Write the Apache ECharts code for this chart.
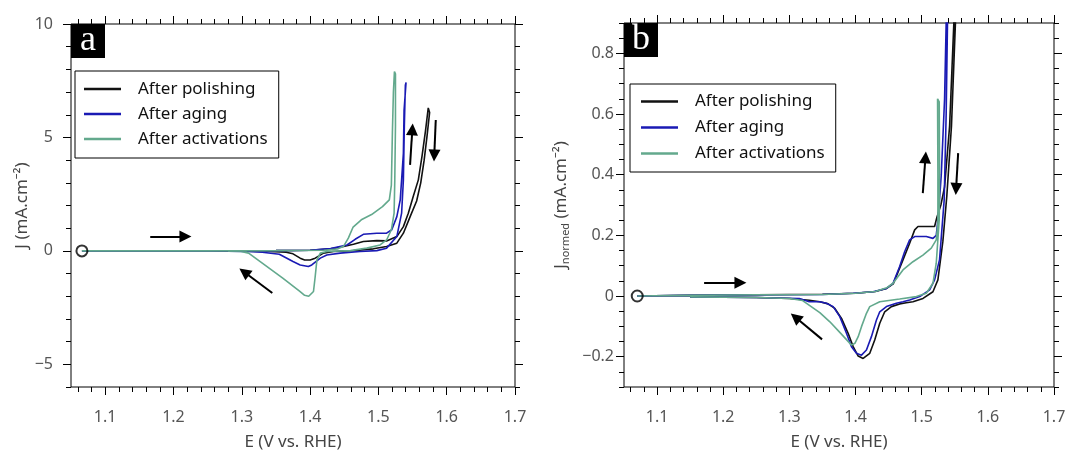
<!DOCTYPE html>
<html>
<head>
<meta charset="utf-8">
<script src="https://cdn.jsdelivr.net/npm/echarts@6/dist/echarts.min.js"></script>
<style>
  html, body { margin: 0; padding: 0; background: #fff; }
  #chart { width: 1068px; height: 450px; }
</style>
</head>
<body>
<div id="chart"></div>
<script>
// ---- Axis ticks -------------------------------------------------------
const eMajor = [1.1, 1.2, 1.3, 1.4, 1.5, 1.6, 1.7];
const eMinor = [1.06, 1.08, 1.12, 1.14, 1.16, 1.18, 1.22, 1.24, 1.26, 1.28,
                1.32, 1.34, 1.36, 1.38, 1.42, 1.44, 1.46, 1.48, 1.52, 1.54,
                1.56, 1.58, 1.62, 1.64, 1.66, 1.68];
const jMajorA = [-5, 0, 5, 10];
const jMinorA = [-6, -4, -3, -2, -1, 1, 2, 3, 4, 6, 7, 8, 9];
const jMajorB = [-0.2, 0, 0.2, 0.4, 0.6, 0.8];
const jMinorB = [-0.3, -0.25, -0.15, -0.1, -0.05, 0.05, 0.1, 0.15, 0.25, 0.3,
                 0.35, 0.45, 0.5, 0.55, 0.65, 0.7, 0.75, 0.85, 0.9];

const seriesNames = ['After polishing', 'After aging', 'After activations'];

// ---- Panel a: J (mA.cm-2) vs E (V vs. RHE), forward then reverse sweep ----
const polishingA = [
  [1.066, 0], [1.15, 0], [1.25, 0], [1.35, 0.01], [1.40, 0.03], [1.43, 0.09],
  [1.449, 0.19], [1.4635, 0.29], [1.478, 0.41], [1.4977, 0.45], [1.512, 0.44],
  [1.527, 0.63], [1.5366, 1.07], [1.5438, 1.66], [1.551, 2.4], [1.5585, 3.13],
  [1.564, 4.2], [1.569, 5.3], [1.573, 6.3],
  [1.575, 6.1], [1.571, 5.0], [1.567, 4.0], [1.562, 3.0], [1.556, 2.2],
  [1.5465, 1.51], [1.5366, 0.78], [1.527, 0.34], [1.512, 0.19], [1.4927, 0.09],
  [1.4635, 0.01], [1.434, -0.03], [1.4196, -0.1], [1.4075, -0.32], [1.40, -0.4],
  [1.392, -0.4], [1.3855, -0.32], [1.375, -0.13], [1.365, -0.06], [1.34, -0.02],
  [1.30, -0.01], [1.25, 0]
];
const agingA = [
  [1.066, 0], [1.15, 0], [1.25, 0], [1.35, 0.01], [1.40, 0.03], [1.43, 0.1],
  [1.454, 0.26], [1.466, 0.51], [1.478, 0.73], [1.4977, 0.78], [1.512, 0.78],
  [1.5196, 0.93], [1.527, 1.51], [1.532, 2.25], [1.534, 3.13], [1.5366, 4.3],
  [1.5376, 6.2], [1.5405, 7.42],
  [1.5395, 7.3], [1.538, 5.5], [1.5366, 3.13], [1.534, 1.66], [1.527, 0.63],
  [1.512, 0.12], [1.4977, 0.01], [1.473, -0.03], [1.444, -0.1], [1.4245, -0.18],
  [1.415, -0.32], [1.4025, -0.62], [1.3975, -0.69], [1.3855, -0.62], [1.375, -0.47],
  [1.355, -0.15], [1.33, -0.06], [1.31, -0.03], [1.28, -0.01]
];
const activationsA = [
  [1.066, 0], [1.15, 0], [1.25, 0], [1.35, 0.01], [1.42, 0.03], [1.44, 0.08],
  [1.449, 0.2], [1.456, 0.56], [1.463, 1.05], [1.475, 1.37], [1.49, 1.6],
  [1.506, 1.95], [1.516, 2.25], [1.519, 2.9], [1.5205, 5.2], [1.522, 7.0],
  [1.5235, 7.9],
  [1.525, 7.8], [1.525, 5.5], [1.524, 3.1], [1.523, 1.66], [1.519, 0.93],
  [1.512, 0.48], [1.5025, 0.26], [1.483, 0.12], [1.459, 0.01], [1.4245, -0.03],
  [1.415, -0.1], [1.41, -0.4], [1.4075, -1.13], [1.405, -1.79], [1.398, -2.0],
  [1.392, -1.96], [1.385, -1.79], [1.36, -1.2], [1.33, -0.54], [1.31, -0.1],
  [1.299, -0.03], [1.28, -0.01]
];

// ---- Panel b: normalised current density -------------------------------
const polishingB = [
  [1.07, 0], [1.15, 0.002], [1.25, 0.004], [1.35, 0.006], [1.40, 0.009],
  [1.43, 0.015], [1.447, 0.025], [1.457, 0.04], [1.4717, 0.119], [1.4818, 0.174],
  [1.4894, 0.218], [1.4944, 0.229], [1.512, 0.229], [1.5195, 0.229], [1.523, 0.26],
  [1.529, 0.30], [1.5346, 0.36], [1.5422, 0.56], [1.5486, 0.9], [1.551, 1.0],
  [1.553, 1.0], [1.551, 0.9], [1.545, 0.56], [1.538, 0.33], [1.532, 0.18],
  [1.5245, 0.053], [1.517, 0.014], [1.502, -0.008], [1.4868, -0.019],
  [1.4767, -0.022], [1.4667, -0.026], [1.4542, -0.035], [1.4441, -0.052],
  [1.4366, -0.09], [1.429, -0.145], [1.4215, -0.189], [1.4115, -0.206],
  [1.404, -0.198], [1.3964, -0.167], [1.3888, -0.123], [1.3788, -0.074],
  [1.3687, -0.041], [1.3586, -0.026], [1.346, -0.019], [1.33, -0.014],
  [1.30, -0.008], [1.25, -0.005], [1.15, -0.003]
];
const agingB = [
  [1.07, 0], [1.15, 0.002], [1.25, 0.004], [1.35, 0.005], [1.3964, 0.009],
  [1.4265, 0.014], [1.4467, 0.025], [1.4567, 0.042], [1.4667, 0.097],
  [1.4742, 0.146], [1.4818, 0.185], [1.4894, 0.196], [1.507, 0.196], [1.517, 0.19],
  [1.522, 0.2], [1.5245, 0.25], [1.527, 0.32], [1.5296, 0.4], [1.5346, 0.65],
  [1.537, 0.9], [1.538, 1.0],
  [1.540, 1.0], [1.539, 0.9], [1.537, 0.6], [1.534, 0.317], [1.527, 0.12],
  [1.5195, 0.053], [1.512, 0.02], [1.497, -0.002], [1.4818, -0.013],
  [1.4717, -0.019], [1.4617, -0.024], [1.4467, -0.035], [1.4366, -0.052],
  [1.4316, -0.079], [1.424, -0.134], [1.4165, -0.178], [1.409, -0.195],
  [1.4014, -0.189], [1.3939, -0.167], [1.3863, -0.123], [1.3762, -0.068],
  [1.3662, -0.035], [1.356, -0.024], [1.346, -0.019], [1.33, -0.019],
  [1.315, -0.008], [1.25, -0.005], [1.15, -0.003]
];
const activationsB = [
  [1.07, 0], [1.15, 0.002], [1.25, 0.004], [1.35, 0.005], [1.40, 0.009],
  [1.43, 0.015], [1.447, 0.027], [1.4567, 0.042], [1.4717, 0.086], [1.4868, 0.113],
  [1.5019, 0.135], [1.5145, 0.158], [1.522, 0.185], [1.5245, 0.24], [1.5245, 0.4],
  [1.524, 0.65], [1.5225, 0.645],
  [1.5265, 0.64], [1.527, 0.4], [1.5265, 0.25], [1.522, 0.108], [1.517, 0.042],
  [1.507, 0.009], [1.492, -0.002], [1.4667, -0.01], [1.4366, -0.019],
  [1.4215, -0.035], [1.4165, -0.057], [1.409, -0.101], [1.404, -0.134],
  [1.399, -0.156], [1.394, -0.162], [1.3762, -0.12], [1.3612, -0.085],
  [1.346, -0.055], [1.32, -0.015], [1.30, -0.008], [1.25, -0.005], [1.15, -0.003]
];

// Scan start points and sweep-direction arrows ([tail], [head])
const startA = [[1.066, 0]];
const startB = [[1.07, 0]];
const arrowsA = [
  [[1.166, 0.63], [1.2175, 0.63]],
  [[1.3447, -1.86], [1.3035, -0.93]],
  [[1.5464, 3.79], [1.5497, 5.35]],
  [[1.584, 5.77], [1.5818, 4.2]]
];
const arrowsB = [
  [[1.1711, 0.044], [1.226, 0.044]],
  [[1.3494, -0.143], [1.3091, -0.07]],
  [[1.5017, 0.339], [1.5057, 0.457]],
  [[1.5551, 0.471], [1.552, 0.353]]
];

const E_MIN = 1.05, E_MAX = 1.7;
const FONT = 'Noto Sans';
const colors = ['#111111', '#1a1ab4', '#63a98d'];

// Plot frames are the grid borders
const gridBase = { show: true, borderColor: '#000', borderWidth: 1,
                   backgroundColor: 'transparent', containLabel: false,
                   outerBoundsMode: 'none' };
const grids = [
  Object.assign({ left: 71, top: 24, width: 444, height: 363 }, gridBase),
  Object.assign({ left: 624, top: 23, width: 430, height: 364 }, gridBase)
];

function fmt(v) {
  const s = Math.abs(v) >= 1 || v === 0 ? String(Math.abs(v)) : Math.abs(v).toFixed(1);
  return (v < 0 ? '\u2212' : '') + s;
}

// Per side: one line-less axis with long major ticks (and labels on the first side),
// and one line-less axis with short minor ticks.
function tickAxes(kind, gridIndex, min, max, major, minor, sides, labelMargin, nameOpt) {
  const base = { type: 'value', gridIndex, min, max, splitLine: { show: false },
                 axisPointer: { show: false } };
  const axes = [];
  sides.forEach(function (side, k) {
    axes.push(Object.assign({}, base, {
      position: side,
      axisLine: { show: false, onZero: false },
      axisTick: { show: true, inside: false, length: 8, customValues: major,
                  lineStyle: { color: '#000', width: 1 } },
      axisLabel: k === 0 ? {
        show: true, customValues: major, margin: labelMargin,
        formatter: kind === 'x' ? function (v) { return v.toFixed(1); } : fmt,
        color: '#555', fontSize: 16, fontFamily: FONT
      } : { show: false }
    }, k === 0 ? nameOpt : {}));
    axes.push(Object.assign({}, base, {
      position: side,
      axisLine: { show: false, onZero: false },
      axisTick: { show: true, inside: false, length: 5, customValues: minor,
                  lineStyle: { color: '#000', width: 1 } },
      axisLabel: { show: false }
    }));
  });
  return axes;
}

const xTitle = { name: 'E (V vs. RHE)', nameLocation: 'middle', nameGap: 47,
                 nameTextStyle: { color: '#444', fontSize: 17, fontFamily: FONT } };

const xAxis = [].concat(
  tickAxes('x', 0, E_MIN, E_MAX, eMajor, eMinor, ['bottom', 'top'], 22, xTitle),
  tickAxes('x', 1, E_MIN, E_MAX, eMajor, eMinor, ['bottom', 'top'], 22, xTitle)
);
const yAxis = [].concat(
  tickAxes('y', 0, -6, 10, jMajorA, jMinorA, ['left', 'right'], 18, {
    name: 'J (mA.cm\u207B\u00B2)', nameLocation: 'middle', nameRotate: 90, nameGap: 40,
    nameTextStyle: { color: '#444', fontSize: 17, fontFamily: FONT }
  }),
  tickAxes('y', 1, -0.3, 0.9, jMajorB, jMinorB, ['left', 'right'], 10, {
    name: '{j|J}{sub|normed}{j| (mA.cm\u207B\u00B2)}', nameLocation: 'middle',
    nameRotate: 90, nameGap: 53,
    nameTextStyle: {
      color: '#444', fontFamily: FONT,
      rich: {
        j: { fontSize: 17, color: '#444', fontFamily: FONT, lineHeight: 20 },
        sub: { fontSize: 11, color: '#444', fontFamily: FONT, verticalAlign: 'bottom', lineHeight: 13 }
      }
    }
  })
);

function curve(name, data, panel, color) {
  return {
    type: 'line', name, data,
    xAxisIndex: panel * 4, yAxisIndex: panel * 4,
    symbol: 'none', showSymbol: false, smooth: false, clip: true,
    lineStyle: { color, width: 1.6 }, itemStyle: { color },
    emphasis: { disabled: true }
  };
}

function arrowMarks(list) {
  return {
    silent: true, symbol: ['none', 'triangle'], symbolSize: 12,
    label: { show: false },
    itemStyle: { color: '#000' },
    lineStyle: { color: '#000', width: 2, type: 'solid' },
    emphasis: { disabled: true },
    data: list.map(function (a) { return [{ coord: a[0] }, { coord: a[1] }]; })
  };
}

function startMarker(data, panel, arrows) {
  return {
    type: 'scatter', name: 'start', data,
    xAxisIndex: panel * 4, yAxisIndex: panel * 4,
    symbol: 'circle', symbolSize: 11,
    itemStyle: { color: 'rgba(255,255,255,0)', borderColor: '#000', borderWidth: 2 },
    emphasis: { disabled: true }, z: 5,
    markLine: arrowMarks(arrows)
  };
}

const datasetsA = [polishingA, agingA, activationsA];
const datasetsB = [polishingB, agingB, activationsB];
const series = [];
seriesNames.forEach(function (n, i) { series.push(curve(n, datasetsA[i], 0, colors[i])); });
seriesNames.forEach(function (n, i) { series.push(curve(n, datasetsB[i], 1, colors[i])); });
series.push(startMarker(startA, 0, arrowsA));
series.push(startMarker(startB, 1, arrowsB));

function legendAt(left, top, pad, rowH) {
  return {
    data: seriesNames, orient: 'vertical', left, top,
    icon: 'rect', itemWidth: 37, itemHeight: 2.4, itemGap: 5, padding: pad,
    borderColor: '#000', borderWidth: 1, borderRadius: 0, backgroundColor: '#fff',
    selectedMode: false,
    textStyle: { fontSize: 17, color: '#111', fontFamily: FONT, lineHeight: rowH,
                 padding: [0, 0, 0, 12] }
  };
}

function panelTag(x, y, letter) {
  return [
    { type: 'rect', shape: { x, y, width: 34, height: 34 }, style: { fill: '#000' }, z: 100 },
    { type: 'text', x: x + 17, y: y + 17, z: 101,
      style: { text: letter, fill: '#fff', font: '36px "Liberation Serif"',
               align: 'center', verticalAlign: 'middle' } }
  ];
}

const chart = echarts.init(document.getElementById('chart'), null, { renderer: 'canvas' });
chart.setOption({
  animation: false,
  backgroundColor: '#fff',
  textStyle: { fontFamily: FONT },
  grid: grids,
  xAxis, yAxis,
  legend: [legendAt(75, 71, [8, 11, 9, 9], 20), legendAt(630, 84, [7, 11, 8, 11], 21)],
  graphic: [].concat(panelTag(71, 24, 'a'), panelTag(624, 23, 'b')),
  series
});
</script>
</body>
</html>
